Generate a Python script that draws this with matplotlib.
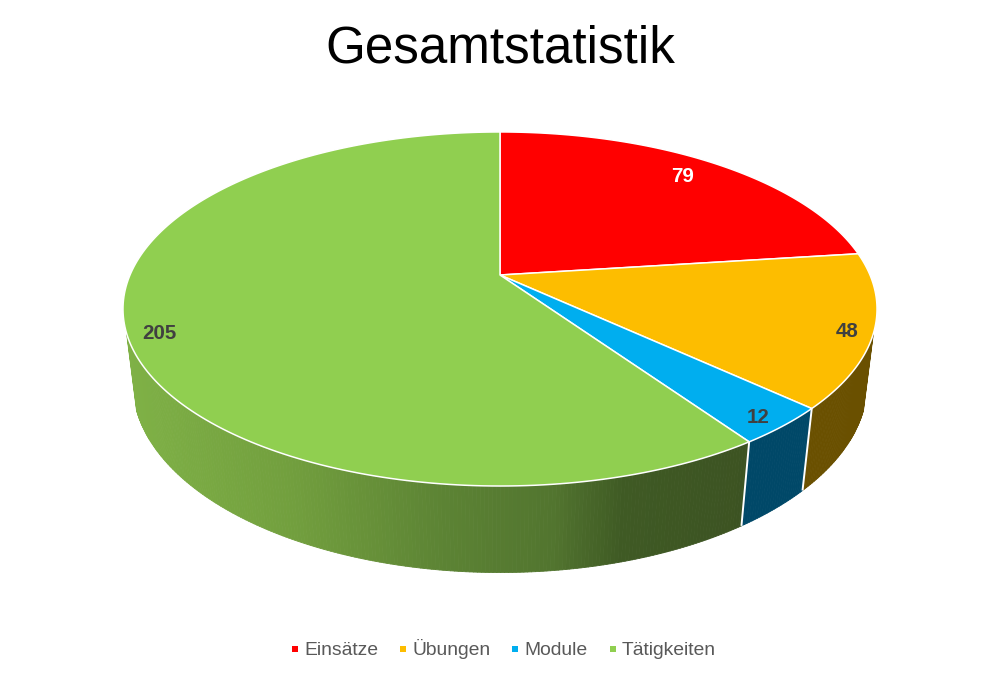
import numpy as np
import matplotlib
matplotlib.use("Agg")
import matplotlib.pyplot as plt
from matplotlib.collections import PolyCollection
from matplotlib.colors import LinearSegmentedColormap
from matplotlib.lines import Line2D
from matplotlib.patches import Polygon

plt.rcParams['font.family'] = ['Liberation Sans', 'DejaVu Sans']

title = "Gesamtstatistik"
categories = ["Einsätze", "Übungen", "Module", "Tätigkeiten"]
values = [79, 48, 12, 205]
top_colors = ["#ff0000", "#fdbd00", "#00aeef", "#90cf50"]
side_colors = ["#800000", "#6a5000", "#004868", None]
label_colors = ["#ffffff", "#404040", "#404040", "#404040"]
label_radius = [0.84, 0.93, 0.92, 0.93]
label_nudge_x = [-1, 1, 1, 6]
label_nudge_y = [-3, 5, 5, 9]

# perspective disc: (centre x, centre y, radius x, radius y, perspective)
TOP = (500, 275, 370, 170.5, 0.192)
BOTTOM = (500, 348, 361, 183, 0.185)


def project(theta, plane, r=1.0):
    cx, cy, rx, ry, k = plane
    s = 1 / (1 + k * r * np.cos(theta))
    return cx + rx * r * np.sin(theta) * s, cy - ry * r * np.cos(theta) * s


fig = plt.figure(figsize=(10, 6.74), dpi=100, facecolor="white")
ax = fig.add_axes([0, 0, 1, 1])
ax.set_xlim(0, 1000)
ax.set_ylim(674, 0)
ax.axis("off")

edges = np.concatenate([[0], np.cumsum(values)]) / sum(values) * 2 * np.pi
side_lo, side_hi = np.radians(108.7), np.radians(251.3)
green_side = LinearSegmentedColormap.from_list(
    "side", [(0, "#7fb146"), (0.26, "#729f3e"), (0.5, "#5c8334"), (0.67, "#52752f"),
             (0.78, "#3f5a24"), (1, "#3c5222")])

for i in range(len(values)):
    a, b = max(edges[i], side_lo), min(edges[i + 1], side_hi)
    if a >= b:
        continue
    th = np.linspace(a, b, int((b - a) / np.radians(0.5)) + 2)
    tx, ty = project(th, TOP)
    bx, by = project(th, BOTTOM)
    quads = [[(tx[j], ty[j]), (tx[j + 1], ty[j + 1]), (bx[j + 1], by[j + 1]), (bx[j], by[j])]
             for j in range(len(th) - 1)]
    if side_colors[i] is None:
        cols = green_side(np.clip((bx[:-1] - 135) / (760 - 135), 0, 1))
    else:
        cols = [side_colors[i]] * len(quads)
    ax.add_collection(PolyCollection(quads, facecolors=cols, edgecolors=cols, linewidths=0.6, zorder=1))

for e in edges[1:-1]:
    if side_lo < e < side_hi:
        tx, ty = project(e, TOP)
        bx, by = project(e, BOTTOM)
        ax.plot([tx, bx], [ty, by], color="white", lw=1.4, zorder=2, solid_capstyle="butt")

for i in range(len(values)):
    th = np.linspace(edges[i], edges[i + 1], 200)
    x, y = project(th, TOP)
    pts = np.column_stack([np.r_[TOP[0], x], np.r_[TOP[1], y]])
    ax.add_patch(Polygon(pts, closed=True, facecolor=top_colors[i], edgecolor="white",
                         linewidth=1.1, joinstyle="round", zorder=3))

for i, v in enumerate(values):
    mid = (edges[i] + edges[i + 1]) / 2
    x, y = project(mid, TOP, label_radius[i])
    ax.text(x + label_nudge_x[i], y + label_nudge_y[i], str(v), color=label_colors[i],
            fontsize=14.8, fontweight="bold", ha="center", va="center", zorder=4)

ax.text(500, 49, title, fontsize=36.8, color="black", ha="center", va="center")

handles = [Line2D([], [], linestyle="none", marker="s", markersize=4.8, markeredgewidth=0,
                  color=c) for c in top_colors]
leg = ax.legend(handles, categories, ncol=4, loc="center", bbox_to_anchor=(0.5035, 0.0365),
                frameon=False, fontsize=13.9, labelcolor="#595959", handlelength=0.4,
                handletextpad=0.27, columnspacing=1.1, borderpad=0, borderaxespad=0)

fig.savefig("out.png", dpi=100, facecolor="white")
